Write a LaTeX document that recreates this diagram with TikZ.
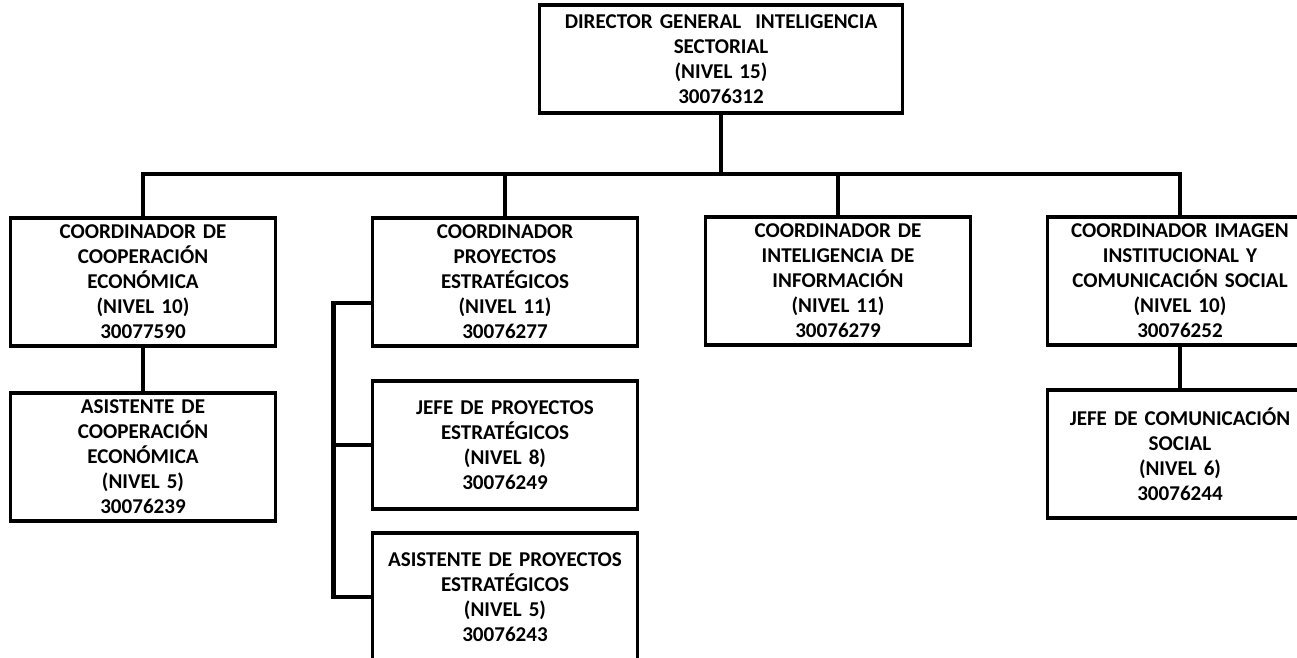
\documentclass[tikz,border=0pt]{standalone}
\usepackage{fontspec}
\setmainfont{Carlito}
\usetikzlibrary{positioning}

\begin{document}
\begin{tikzpicture}[
    x=0.02cm, y=-0.02cm,
    box/.style={
      draw=black, line width=2.2pt, fill=white,
      align=center, text width=5.2cm, minimum width=5.3cm,
      minimum height=2.56cm, inner sep=0pt,
      font=\fontsize{12}{14.2}\selectfont\bfseries
    },
    topbox/.style={
      box, text width=7.1cm, minimum width=7.26cm, minimum height=2.16cm
    },
    conn/.style={line width=2.6pt, black},
  ]
    \useasboundingbox (0,0) rectangle (1297,658);
    \clip (0,0) rectangle (1297,658);
    \fill[white] (0,0) rectangle (1297,658);

    \node[topbox] (dir) at (721,59) {%
      DIRECTOR GENERAL\ \ INTELIGENCIA\\
      SECTORIAL\\
      (NIVEL 15)\\
      30076312
    };
    \node[box] (coop) at (143,282) {%
      COORDINADOR DE\\
      COOPERACIÓN\\
      ECONÓMICA\\
      (NIVEL 10)\\
      30077590
    };
    \node[box] (proy) at (505,282) {%
      COORDINADOR\\
      PROYECTOS\\
      ESTRATÉGICOS\\
      (NIVEL 11)\\
      30076277
    };
    \node[box] (intel) at (838,281) {%
      COORDINADOR DE\\
      INTELIGENCIA DE\\
      INFORMACIÓN\\
      (NIVEL 11)\\
      30076279
    };
    \node[box] (imag) at (1180,281) {%
      COORDINADOR IMAGEN\\
      INSTITUCIONAL Y\\
      COMUNICACIÓN SOCIAL\\
      (NIVEL 10)\\
      30076252
    };
    \node[box] (asiscoop) at (143,457) {%
      ASISTENTE DE\\
      COOPERACIÓN\\
      ECONÓMICA\\
      (NIVEL 5)\\
      30076239
    };
    \node[box] (jefeproy) at (505,445) {%
      JEFE DE PROYECTOS\\
      ESTRATÉGICOS\\
      (NIVEL 8)\\
      30076249
    };
    \node[box] (asisproy) at (505,597) {%
      ASISTENTE DE PROYECTOS\\
      ESTRATÉGICOS\\
      (NIVEL 5)\\
      30076243
    };
    \node[box] (jefecom) at (1180,454) {%
      JEFE DE COMUNICACIÓN\\
      SOCIAL\\
      (NIVEL 6)\\
      30076244
    };

    \coordinate (bus) at (721,174);
    \draw[conn] (dir.south) -- (bus);
    \draw[conn] (coop.north) |- (bus) -| (imag.north);
    \draw[conn] (proy.north) -- (proy.north |- bus);
    \draw[conn] (intel.north) -- (intel.north |- bus);
    \draw[conn] (coop.south) -- (asiscoop.north);
    \draw[conn] (imag.south) -- (jefecom.north);
    \draw[conn] ([yshift=-0.42cm]proy.west) -| ([xshift=-0.74cm]asisproy.west)
      -- (asisproy.west);
    \draw[conn] (jefeproy.west) -- ++(-37,0);
  \end{tikzpicture}
\end{document}
